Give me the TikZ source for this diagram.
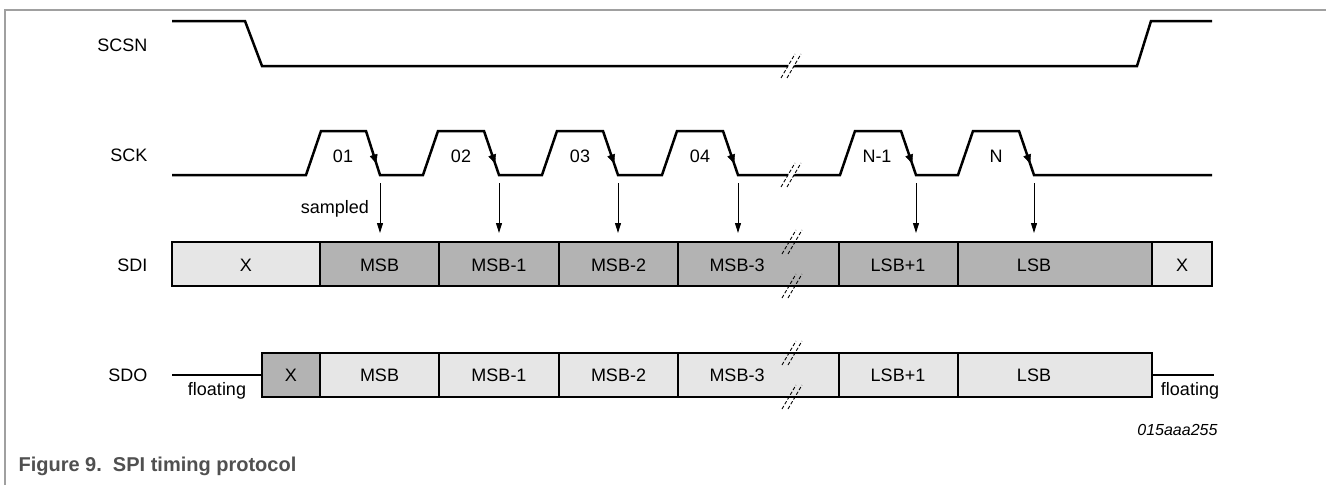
\documentclass[tikz,border=0pt]{standalone}
\usepackage{fontspec}
\setmainfont{Liberation Sans}
\usetikzlibrary{arrows.meta,decorations.markings}
\definecolor{darkcell}{HTML}{B3B3B3}
\definecolor{lightcell}{HTML}{E6E6E6}
\definecolor{framegray}{HTML}{A0A0A0}
\definecolor{captiongray}{HTML}{505050}
\begin{document}
\begin{tikzpicture}[x=1pt,y=-1pt,
  font=\fontsize{18}{21}\selectfont,
  sig/.style={line width=2.5pt},
  fallmark/.style={postaction={decorate},decoration={markings,
      mark=at position 0.74 with {\arrow{Triangle[length=9pt,width=8pt]}}}},
  cell/.style={draw, line width=2.5pt, minimum height=44pt, inner sep=0pt,
      outer sep=0pt, anchor=north west, text depth=0pt},
  darkc/.style={cell, fill=darkcell},
  lightc/.style={cell, fill=lightcell},
  samp/.style={line width=1pt, -{Triangle[length=10pt,width=6pt]},
      shorten <=8pt, shorten >=9pt},
  sname/.style={anchor=base east},
  txt/.style={anchor=base},
  brkline/.style={line width=0.9pt, dash pattern=on 3.5pt off 2pt},
  brk/.pic={\fill[white] (-4.75,3.5) -- (1.25,3.5) -- (4.75,-3.5) -- (-1.25,-3.5) -- cycle;
            \draw[brkline] (-10,12) -- (4,-12);
            \draw[brkline] (-4,12) -- (10,-12);},
  brkb/.pic={\draw[brkline] (-10,12) -- (4,-12);
            \draw[brkline] (-4,12) -- (10,-12);}
]
\useasboundingbox (0,0) rectangle (1326,485);

% frame
\draw[framegray, line width=1.5pt] (5,485) -- (5,10) -- (1326,10);

% signal names
\node[sname] (nscsn) at (151,51.5) {SCSN};
\node[sname] (nsck)  at (151,161) {SCK};
\node[sname] (nsdi)  at (151,271) {SDI};
\node[sname] (nsdo)  at (151,381) {SDO};

% SCSN
\draw[sig] (172,21) -- (245,21) -- (262,66) -- (1137,66) -- (1151,21) -- (1212,21);

% SCK waveform
\coordinate (f1) at (380,175);
\coordinate (f2) at (499,175);
\coordinate (f3) at (618,175);
\coordinate (f4) at (738,175);
\coordinate (f5) at (916,175);
\coordinate (f6) at (1034,175);
\draw[sig] (172,175) -- (306,175) -- (321,131) -- (366,131) -- (f1)
  -- (423,175) -- (438,131) -- (484,131) -- (f2)
  -- (542,175) -- (557,131) -- (603,131) -- (f3)
  -- (662,175) -- (677,131) -- (723,131) -- (f4)
  -- (840,175) -- (855,131) -- (901,131) -- (f5)
  -- (958,175) -- (973,131) -- (1019,131) -- (f6) -- (1212,175);
\path[fallmark] (366,131) -- (f1);
\path[fallmark] (484,131) -- (f2);
\path[fallmark] (603,131) -- (f3);
\path[fallmark] (723,131) -- (f4);
\path[fallmark] (901,131) -- (f5);
\path[fallmark] (1019,131) -- (f6);

\node[txt] (c1) at (343,162) {01};
\node[txt] (c2) at (461,162) {02};
\node[txt] (c3) at (580,162) {03};
\node[txt] (c4) at (700,162) {04};
\node[txt] (c5) at (877,162) {N-1};
\node[txt] (c6) at (996,162) {N};

% SDI cells
\node[lightc, minimum width=148pt] (di0) at (172,242) {};
\node[darkc, minimum width=119pt] (di1) at (320,242) {};
\node[darkc, minimum width=120pt] (di2) at (439,242) {};
\node[darkc, minimum width=119pt] (di3) at (559,242) {};
\node[darkc, minimum width=161pt] (di4) at (678,242) {};
\node[darkc, minimum width=119pt] (di5) at (839,242) {};
\node[darkc, minimum width=194pt] (di6) at (958,242) {};
\node[lightc, minimum width=60pt] (di7) at (1152,242) {};
\node[txt] at (246,271) {X};
\node[txt] at (379.5,271) {MSB};
\node[txt] at (499,271) {MSB-1};
\node[txt] at (618.5,271) {MSB-2};
\node[txt] at (737,271) {MSB-3};
\node[txt] at (898,271) {LSB+1};
\node[txt] at (1034,271) {LSB};
\node[txt] at (1182,271) {X};

% SDO
\node[darkc, minimum width=58pt] (do0) at (262,353) {};
\node[lightc, minimum width=119pt] (do1) at (320,353) {};
\node[lightc, minimum width=120pt] (do2) at (439,353) {};
\node[lightc, minimum width=119pt] (do3) at (559,353) {};
\node[lightc, minimum width=161pt] (do4) at (678,353) {};
\node[lightc, minimum width=119pt] (do5) at (839,353) {};
\node[lightc, minimum width=194pt] (do6) at (958,353) {};
\coordinate (fl1) at (172,375);
\coordinate (fl2) at (1214,375);
\draw[sig] (fl1) -- (fl1 -| do0.west);
\draw[sig] (fl2 -| do6.east) -- (fl2);
\node[txt] at (291,381) {X};
\node[txt] at (379.5,381) {MSB};
\node[txt] at (499,381) {MSB-1};
\node[txt] at (618.5,381) {MSB-2};
\node[txt] at (737,381) {MSB-3};
\node[txt] at (898,381) {LSB+1};
\node[txt] at (1034,381) {LSB};
\node[txt] (fla) at (217,395) {floating};
\node[txt] (flb) at (1190,395) {floating};

% sample arrows
\node[txt] (smp) at (335,213) {sampled};
\draw[samp] (f1) -- (f1 |- di1.north);
\draw[samp] (f2) -- (f2 |- di2.north);
\draw[samp] (f3) -- (f3 |- di3.north);
\draw[samp] (f4) -- (f4 |- di4.north);
\draw[samp] (f5) -- (f5 |- di5.north);
\draw[samp] (f6) -- (f6 |- di6.north);

% break marks
\pic at (791,66) {brk};
\pic at (791,175) {brk};
\pic at (792,242) {brkb};
\pic at (792,286) {brkb};
\pic at (792,353) {brkb};
\pic at (792,397) {brkb};

% ids and caption
\node[anchor=base east, font=\itshape\fontsize{16}{19}\selectfont] (id) at (1221,435) {015aaa255};
\node[anchor=base west, font=\bfseries\fontsize{20}{24}\selectfont, text=captiongray] (cap) at (15,471) {Figure 9.\ \ SPI timing protocol};
\end{tikzpicture}
\end{document}
